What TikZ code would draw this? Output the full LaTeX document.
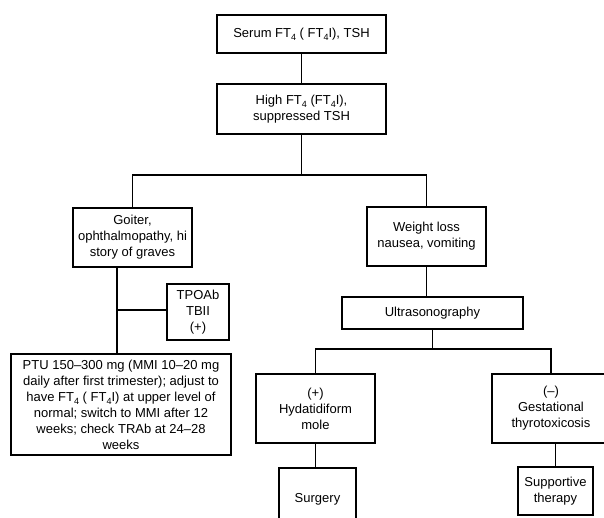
\documentclass[tikz,border=0pt]{standalone}
\usepackage{fontspec}
\setmainfont{Liberation Sans}
\newcommand\lowsub[1]{\raisebox{-0.45ex}{\fontsize{9}{9}\selectfont #1}}
\begin{document}
\begin{tikzpicture}[x=1pt,y=-1pt,
  box/.style={draw, line width=1.8pt, align=center, inner sep=0pt,
    font=\fontsize{13}{16}\selectfont},
  conn/.style={line width=1.8pt}]
\useasboundingbox (0,0) rectangle (604,517);
\clip (0,0) rectangle (604,517);
\node[box, minimum width=169, minimum height=38] (top) at (301.5,34) {Serum FT\lowsub{4} ( FT\lowsub{4}I), TSH};
\node[box, minimum width=169, minimum height=50] (high) at (301.5,109) {High FT\lowsub{4} (FT\lowsub{4}I),\\suppressed TSH};
\node[box, minimum width=119, minimum height=59] (goiter) at (132.5,237.5) {Goiter,\\ophthalmopathy, hi\\story of graves};
\node[box, minimum width=62, minimum height=56] (tpo) at (198,312) {TPOAb\\TBII\\(+)};
\node[box, minimum width=220, minimum height=101] (ptu) at (121,404.5) {PTU 150--300 mg (MMI 10--20 mg\\daily after first trimester); adjust to\\have FT\lowsub{4} ( FT\lowsub{4}I) at upper level of\\normal; switch to MMI after 12\\weeks; check TRAb at 24--28\\weeks};
\node[box, minimum width=119, minimum height=59] (weight) at (426.5,236.5) {Weight loss\\nausea, vomiting};
\node[box, minimum width=181, minimum height=32] (ultra) at (432.5,313) {Ultrasonography};
\node[box, minimum width=119, minimum height=69] (hyd) at (315.5,408.5) {(+)\\Hydatidiform\\mole};
\node[box, minimum width=118, minimum height=69] (gest) at (551,408.5) {(--)\\Gestational\\thyrotoxicosis};
\node[box, minimum width=77, minimum height=62] (surg) at (317.5,499) {Surgery};
\node[box, minimum width=75, minimum height=48] (supp) at (555.5,491) {Supportive\\therapy};
\coordinate (j1) at (301.5,175);
\coordinate (j2) at (117,310);
\coordinate (j3) at (432.5,349);
\draw[conn] (top.south) -- (high.north);
\draw[conn] (high.south) -- (j1);
\draw[conn] (goiter.north) |- (j1) -| (weight.north);
\draw[conn] (goiter.south -| j2) -- (ptu.north -| j2);
\draw[conn] (j2) -- (j2 -| tpo.west);
\draw[conn] (weight.south) -- (weight.south |- ultra.north);
\draw[conn] (ultra.south) -- (j3);
\draw[conn] (hyd.north) |- (j3) -| (gest.north);
\draw[conn] (hyd.south) -- (hyd.south |- surg.north);
\draw[conn] (supp.north) -- (supp.north |- gest.south);
\end{tikzpicture}
\end{document}
